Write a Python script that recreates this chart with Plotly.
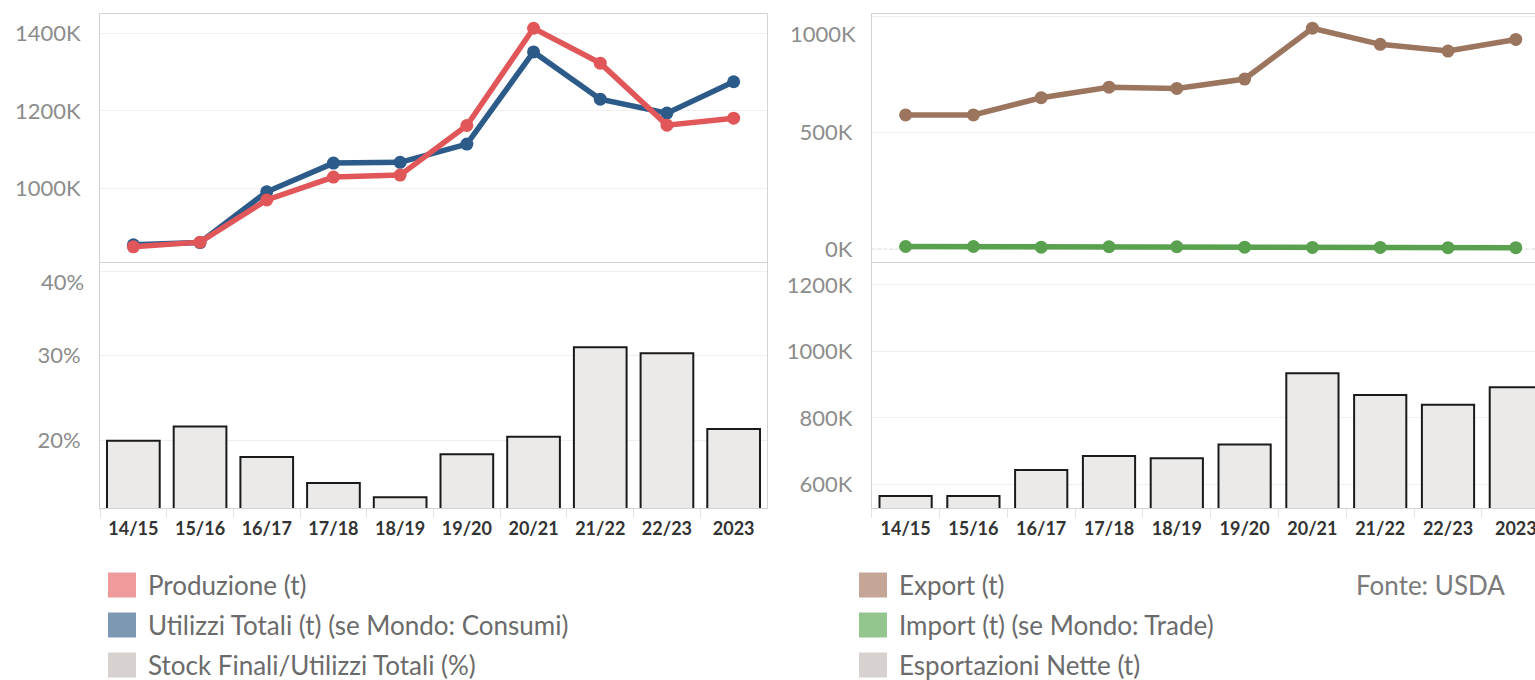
import plotly.graph_objects as go

# ---------------- data (thousand tonnes / %) ----------------
categories = ["14/15", "15/16", "16/17", "17/18", "18/19", "19/20", "20/21", "21/22", "22/23", "2023"]
produzione = [849, 861, 970, 1029, 1034, 1162, 1413, 1323, 1163, 1181]
utilizzi_totali = [854, 860, 991, 1065, 1067, 1114, 1352, 1230, 1194, 1275]
stock_ratio = [19.9, 21.6, 18.0, 14.9, 13.2, 18.3, 20.4, 31.0, 30.3, 21.3]
export = [576, 576, 650, 695, 690, 730, 948, 879, 850, 900]
import_ = [12, 12, 9, 11, 11, 9, 8, 8, 7, 7]
esportazioni_nette = [565, 565, 643, 685, 678, 720, 934, 869, 839, 892]

ticks_prod = [1000, 1200, 1400]
ticks_ratio = [20, 30, 40]
ticks_trade = [0, 500, 1000]
ticks_net = [600, 800, 1000, 1200]

left_legend = ["Produzione (t)", "Utilizzi Totali (t) (se Mondo: Consumi)", "Stock Finali/Utilizzi Totali (%)"]
right_legend = ["Export (t)", "Import (t) (se Mondo: Trade)", "Esportazioni Nette (t)"]
source_text = "Fonte: USDA"

# ---------------- styling ----------------
W, H = 1535, 680
FONT = "Lato"
RED, BLUE, BROWN, GREEN = "#e15759", "#2c5b8a", "#9c755f", "#59a14f"
BAR_FILL, BAR_LINE = "#ebeae8", "#1a1a1a"
left_sw = ["#ef9b9c", "#7d98b3", "#d7d2cf"]
right_sw = ["#c4a596", "#95c58f", "#d7d2cf"]
GRID, BORDER = "#efefef", "#d3d3d3"
TICK_GRAY = "#8c8c8c"


def px_x(x):
    return x / W


def px_y(y):
    return 1 - y / H


fig = go.Figure()

# left top: lines
fig.add_trace(go.Scatter(x=categories, y=utilizzi_totali, mode="lines+markers",
                         line=dict(color=BLUE, width=5.5), marker=dict(size=13, color=BLUE),
                         xaxis="x", yaxis="y", showlegend=False))
fig.add_trace(go.Scatter(x=categories, y=produzione, mode="lines+markers",
                         line=dict(color=RED, width=5.5), marker=dict(size=13, color=RED),
                         xaxis="x", yaxis="y", showlegend=False))
# left bottom: bars
fig.add_trace(go.Bar(x=categories, y=stock_ratio, width=0.79,
                     marker=dict(color=BAR_FILL, line=dict(color=BAR_LINE, width=2)),
                     xaxis="x2", yaxis="y2", showlegend=False))
# right top: lines
fig.add_trace(go.Scatter(x=categories, y=export, mode="lines+markers",
                         line=dict(color=BROWN, width=5.5), marker=dict(size=13, color=BROWN),
                         xaxis="x3", yaxis="y3", showlegend=False))
fig.add_trace(go.Scatter(x=categories, y=import_, mode="lines+markers",
                         line=dict(color=GREEN, width=5.5), marker=dict(size=13, color=GREEN),
                         xaxis="x3", yaxis="y3", showlegend=False))
# right bottom: bars
fig.add_trace(go.Bar(x=categories, y=esportazioni_nette, width=0.77,
                     marker=dict(color=BAR_FILL, line=dict(color=BAR_LINE, width=2)),
                     xaxis="x4", yaxis="y4", showlegend=False))

ytick_font = dict(family=FONT, size=22, color=TICK_GRAY)
xtick_font = dict(family=FONT, size=18, color="#333333", weight="bold")

left_dom = [px_x(100), px_x(767)]
right_dom = [px_x(871.7), 1.0]
top_dom = [px_y(262), px_y(14)]
bot_dom = [px_y(508.3), px_y(263)]

common_x = dict(type="category", showgrid=False, showline=True, mirror=True, automargin=False,
                linecolor=BORDER, linewidth=1, zeroline=False, fixedrange=True)
common_y = dict(showgrid=True, gridcolor=GRID, gridwidth=1, showline=True, mirror=True,
                automargin=False, linecolor=BORDER, linewidth=1, zeroline=False,
                tickfont=ytick_font, ticks="", ticklabelstandoff=14, fixedrange=True)

top_x = dict(common_x, showticklabels=False, ticks="")
bot_x = dict(common_x, showticklabels=True, tickson="boundaries", ticks="outside",
             ticklen=9, tickcolor="#e3e3e3", tickfont=xtick_font, ticklabelstandoff=4)


def tick_text(vals, suffix, hide_top):
    # the top label is drawn separately, nudged inside the pane (as in the original)
    return [("" if (hide_top and v == vals[-1]) else f"{v}{suffix}") for v in vals]


fig.update_layout(
    template="none",
    width=W, height=H, autosize=False,
    margin=dict(l=0, r=0, t=0, b=0, pad=0),
    paper_bgcolor="white", plot_bgcolor="white",
    font=dict(family=FONT),
    showlegend=False,
    bargap=0.2,
    xaxis=dict(top_x, domain=left_dom, anchor="y", range=[-0.5, 9.5]),
    yaxis=dict(common_y, domain=top_dom, anchor="x", range=[809.8, 1449.8],
               tickvals=ticks_prod, ticktext=tick_text(ticks_prod, "K", False)),
    xaxis2=dict(bot_x, domain=left_dom, anchor="y2", range=[-0.5, 9.5]),
    yaxis2=dict(common_y, domain=bot_dom, anchor="x2", range=[11.9, 41.0],
                tickvals=ticks_ratio, ticktext=tick_text(ticks_ratio, "%", True)),
    xaxis3=dict(top_x, domain=right_dom, anchor="y3", range=[-0.5, 9.283]),
    yaxis3=dict(common_y, domain=top_dom, anchor="x3", range=[-54.5, 1009],
                tickvals=ticks_trade, ticktext=tick_text(ticks_trade, "K", True)),
    xaxis4=dict(bot_x, domain=right_dom, anchor="y4", range=[-0.5, 9.283]),
    yaxis4=dict(common_y, domain=bot_dom, anchor="x4", range=[527.7, 1266],
                tickvals=ticks_net, ticktext=tick_text(ticks_net, "K", False)),
)

# top tick labels nudged inside their pane
fig.add_annotation(text=f"{ticks_ratio[-1]}%", xref="x2 domain", x=0, yref="y2", y=ticks_ratio[-1],
                   xanchor="right", yanchor="middle", xshift=-14, yshift=-10, showarrow=False,
                   font=ytick_font)
fig.add_annotation(text=f"{ticks_trade[-1]}K", xref="x3 domain", x=0, yref="y3", y=ticks_trade[-1],
                   xanchor="right", yanchor="middle", xshift=-14, yshift=-17, showarrow=False,
                   font=ytick_font)

# dotted zero reference line in the trade panel
fig.add_shape(type="line", xref="x3 domain", x0=0, x1=1, yref="y3", y0=0, y1=0,
              line=dict(color="#9a9a9a", width=1, dash="dot"), layer="below")

# legends (colour swatches + labels)
row_y = [585, 625, 665]
for labels, swatches, sx, tx in ((left_legend, left_sw, 108, 146), (right_legend, right_sw, 859, 897)):
    for lab, col, ry in zip(labels, swatches, row_y):
        fig.add_shape(type="rect", xref="paper", yref="paper",
                      x0=px_x(sx), x1=px_x(sx + 28), y0=px_y(ry + 12.5), y1=px_y(ry - 12.5),
                      fillcolor=col, line=dict(width=0))
        fig.add_annotation(text=lab, xref="paper", yref="paper", x=px_x(tx), y=px_y(ry),
                           xanchor="left", yanchor="middle", showarrow=False,
                           font=dict(family=FONT, size=26, color="#6b6b6b"))

fig.add_annotation(text=source_text, xref="paper", yref="paper", x=px_x(1507), y=px_y(585),
                   xanchor="right", yanchor="middle", showarrow=False,
                   font=dict(family=FONT, size=26, color="#7a7a7a"))

fig.write_html("out.html")
